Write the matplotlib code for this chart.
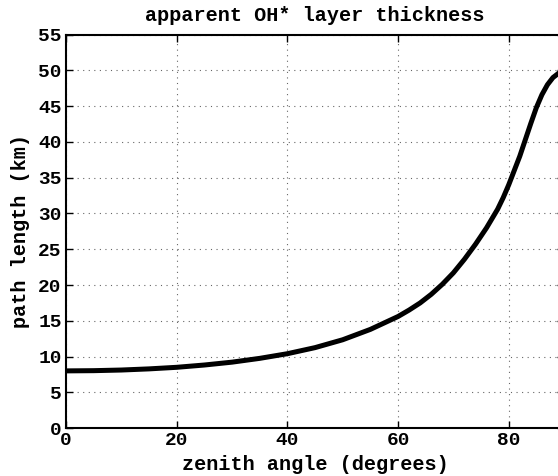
import matplotlib
matplotlib.use("Agg")
import matplotlib.pyplot as plt

# zenith angle (deg) vs. slant path through the emission layer (km)
zenith = [0, 5, 10, 15, 20, 25, 30, 35, 40, 45, 50, 55, 60, 62, 64, 66, 68, 70,
          72, 74, 76, 78, 79, 80, 81, 82, 83, 84, 85, 86, 87, 88, 89, 90]
path_km = [8.0, 8.03, 8.12, 8.28, 8.5, 8.82, 9.22, 9.75, 10.4, 11.25, 12.35, 13.8,
           15.6, 16.5, 17.5, 18.7, 20.1, 21.7, 23.6, 25.7, 28.0, 30.6, 32.2, 34.0,
           36.0, 38.0, 40.3, 42.6, 44.8, 46.6, 48.0, 49.0, 49.6, 49.9]

xticks = [0, 20, 40, 60, 80]
yticks = list(range(0, 56, 5))

plt.rcParams["font.family"] = ["Liberation Mono", "DejaVu Sans Mono"]
plt.rcParams["font.weight"] = "bold"

fig = plt.figure(figsize=(5.58, 4.76), dpi=100)
# right edge runs a little past the figure border
ax = fig.add_axes([0.1183, 0.1006, 0.8925, 0.8266])

ax.plot(zenith, path_km, color="black", lw=3.6, solid_joinstyle="round")

ax.set_xlim(0, 90)
ax.set_ylim(0, 55)
ax.set_xticks(xticks)
ax.set_yticks(yticks)
ax.tick_params(direction="in", length=5, width=1, labelsize=14, top=True, right=True, pad=3)
for lab in ax.get_xticklabels() + ax.get_yticklabels():
    lab.set_fontweight("bold")
ax.grid(True, linestyle=(0, (1, 4)), color="black", lw=0.8, alpha=0.6)
for s in ax.spines.values():
    s.set_linewidth(1.5)

ax.set_xlabel("zenith angle (degrees)", fontsize=14.5, fontweight="bold", labelpad=4)
ax.set_ylabel("path length (km)", fontsize=14.5, fontweight="bold", labelpad=6)
ax.set_title("apparent OH* layer thickness", fontsize=14.5, fontweight="bold", pad=10)

fig.savefig("out.png", dpi=100)
